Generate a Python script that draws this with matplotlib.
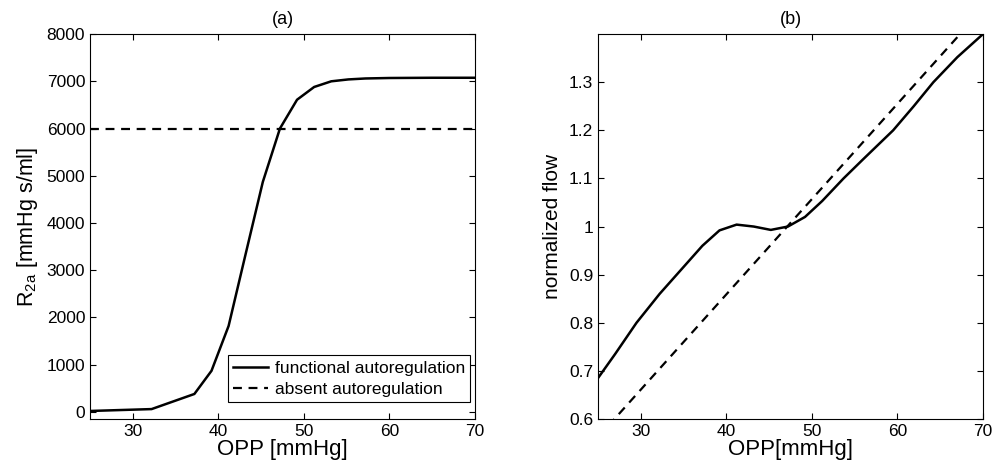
import matplotlib
matplotlib.use('Agg')
import matplotlib.pyplot as plt

plt.rcParams['font.family'] = ['Liberation Sans', 'DejaVu Sans']
plt.rcParams['mathtext.default'] = 'regular'

# panel (a): resistance vs OPP
opp_a = [25, 32.2, 37.2, 39.2, 41.2, 43.2, 45.2, 47.2, 49.2, 51.2, 53.2, 55.2, 57.2, 60, 65, 70]
r2a_func = [20, 60, 380, 870, 1820, 3350, 4870, 6000, 6610, 6880, 7000, 7040, 7060, 7070, 7075, 7075]
opp_absent_a = [25, 70]
r2a_absent = [6000, 6000]

# panel (b): normalized flow vs OPP
opp_b = [25, 27, 29.5, 32.2, 34.2, 37.2, 39.2, 41.2, 43.2, 45.2, 47.2, 49.2, 51.2,
         53.7, 56, 59.5, 61.9, 64.2, 67, 70]
flow_func = [0.685, 0.735, 0.8, 0.86, 0.9, 0.96, 0.992, 1.004, 1.0, 0.993, 1.0, 1.02, 1.053,
             1.1, 1.14, 1.2, 1.25, 1.3, 1.352, 1.40]
opp_absent_b = [25, 70]
flow_absent = [0.562, 1.453]

fig = plt.figure(figsize=(10, 4.7), dpi=100)
ax1 = fig.add_axes([0.09, 0.1085, 0.385, 0.819])
ax2 = fig.add_axes([0.598, 0.1085, 0.385, 0.819])

ax1.plot(opp_a, r2a_func, color='black', lw=1.8, label='functional autoregulation')
ax1.plot(opp_absent_a, r2a_absent, color='black', lw=1.6, ls=(0, (4, 3)), label='absent autoregulation')
ax1.set_xlim(25, 70)
ax1.set_ylim(-150, 8000)
ax1.set_xticks([30, 40, 50, 60, 70])
ax1.set_yticks(range(0, 8001, 1000))
ax1.set_xlabel('OPP [mmHg]', fontsize=16, labelpad=0)
ax1.set_ylabel('R$_{2a}$ [mmHg s/ml]', fontsize=15.5, labelpad=5)
ax1.set_title('(a)', fontsize=13, pad=7)
leg = ax1.legend(loc='lower right', bbox_to_anchor=(0.987, 0.044), borderaxespad=0,
                 fontsize=12.5, frameon=True, fancybox=False, edgecolor='black',
                 framealpha=1, handlelength=2.0, borderpad=0.3, labelspacing=0.35,
                 handletextpad=0.4)
leg.get_frame().set_linewidth(0.8)

ax2.plot(opp_b, flow_func, color='black', lw=1.8)
ax2.plot(opp_absent_b, flow_absent, color='black', lw=1.6, ls=(0, (4, 3)))
ax2.set_xlim(25, 70)
ax2.set_ylim(0.6, 1.4)
ax2.set_xticks([30, 40, 50, 60, 70])
ax2.set_yticks([0.6, 0.7, 0.8, 0.9, 1.0, 1.1, 1.2, 1.3])
ax2.set_yticklabels(['0.6', '0.7', '0.8', '0.9', '1', '1.1', '1.2', '1.3'])
ax2.set_xlabel('OPP[mmHg]', fontsize=16, labelpad=0)
ax2.set_ylabel('normalized flow', fontsize=15, labelpad=5)
ax2.set_title('(b)', fontsize=13, pad=7)

for ax in (ax1, ax2):
    ax.tick_params(direction='in', top=True, right=True, labelsize=12.5, length=4, width=0.8)
    for s in ax.spines.values():
        s.set_linewidth(0.8)

fig.savefig('out.png', dpi=100)
